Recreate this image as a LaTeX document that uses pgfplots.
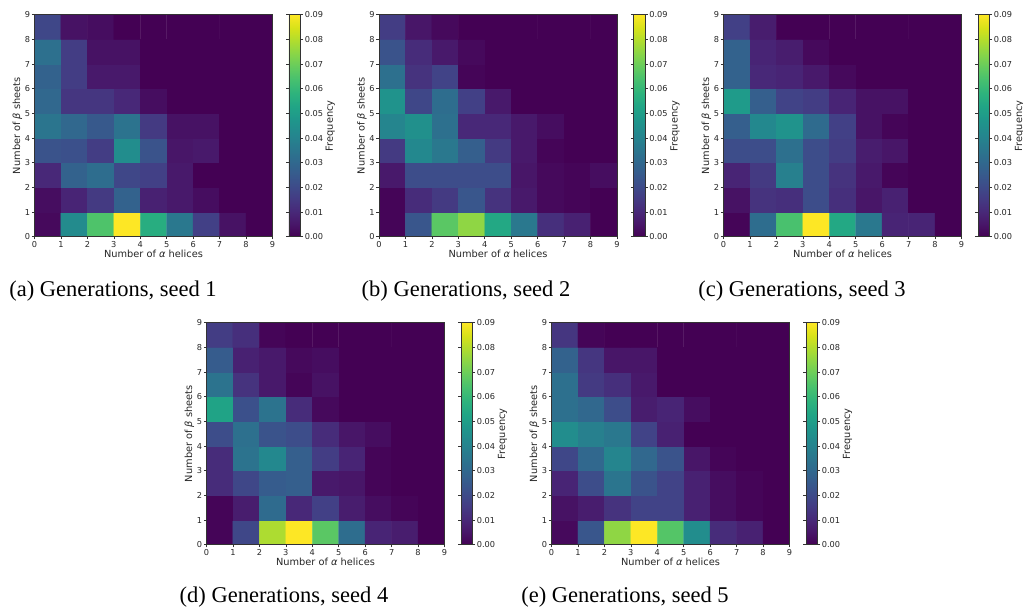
\documentclass[border=0pt]{standalone}
\usepackage{fontspec}
\setmainfont{DejaVu Sans}
\newfontfamily\capfont{Liberation Serif}
\usepackage{pgfplots}
\usepackage{pgfplotstable}
\pgfplotsset{compat=1.18}

% cell tables: x y c  (x,y = cell centres, c = frequency)
\pgfplotstableread[row sep=\\]{
x y c\\
0.5 0.5 0.002\\ 1.5 0.5 0.043\\ 2.5 0.5 0.065\\ 3.5 0.5 0.090\\ 4.5 0.5 0.056\\ 5.5 0.5 0.036\\ 6.5 0.5 0.017\\ 7.5 0.5 0.004\\ 8.5 0.5 0.000\\
0.5 1.5 0.003\\ 1.5 1.5 0.009\\ 2.5 1.5 0.015\\ 3.5 1.5 0.028\\ 4.5 1.5 0.008\\ 5.5 1.5 0.006\\ 6.5 1.5 0.003\\ 7.5 1.5 0.000\\ 8.5 1.5 0.000\\
0.5 2.5 0.010\\ 1.5 2.5 0.028\\ 2.5 2.5 0.032\\ 3.5 2.5 0.019\\ 4.5 2.5 0.017\\ 5.5 2.5 0.006\\ 6.5 2.5 0.000\\ 7.5 2.5 0.000\\ 8.5 2.5 0.000\\
0.5 3.5 0.023\\ 1.5 3.5 0.022\\ 2.5 3.5 0.016\\ 3.5 3.5 0.044\\ 4.5 3.5 0.023\\ 5.5 3.5 0.005\\ 6.5 3.5 0.006\\ 7.5 3.5 0.000\\ 8.5 3.5 0.000\\
0.5 4.5 0.035\\ 1.5 4.5 0.030\\ 2.5 4.5 0.025\\ 3.5 4.5 0.034\\ 4.5 4.5 0.015\\ 5.5 4.5 0.004\\ 6.5 4.5 0.004\\ 7.5 4.5 0.000\\ 8.5 4.5 0.000\\
0.5 5.5 0.030\\ 1.5 5.5 0.014\\ 2.5 5.5 0.014\\ 3.5 5.5 0.010\\ 4.5 5.5 0.003\\ 5.5 5.5 0.000\\ 6.5 5.5 0.000\\ 7.5 5.5 0.000\\ 8.5 5.5 0.000\\
0.5 6.5 0.028\\ 1.5 6.5 0.016\\ 2.5 6.5 0.006\\ 3.5 6.5 0.006\\ 4.5 6.5 0.000\\ 5.5 6.5 0.000\\ 6.5 6.5 0.000\\ 7.5 6.5 0.000\\ 8.5 6.5 0.000\\
0.5 7.5 0.033\\ 1.5 7.5 0.016\\ 2.5 7.5 0.004\\ 3.5 7.5 0.004\\ 4.5 7.5 0.000\\ 5.5 7.5 0.000\\ 6.5 7.5 0.000\\ 7.5 7.5 0.000\\ 8.5 7.5 0.000\\
0.5 8.5 0.019\\ 1.5 8.5 0.004\\ 2.5 8.5 0.003\\ 3.5 8.5 0.000\\ 4.5 8.5 0.000\\ 5.5 8.5 0.000\\ 6.5 8.5 0.000\\ 7.5 8.5 0.000\\ 8.5 8.5 0.000\\
}\tA

\pgfplotstableread[row sep=\\]{
x y c\\
0.5 0.5 0.001\\ 1.5 0.5 0.024\\ 2.5 0.5 0.067\\ 3.5 0.5 0.075\\ 4.5 0.5 0.054\\ 5.5 0.5 0.036\\ 6.5 0.5 0.012\\ 7.5 0.5 0.008\\ 8.5 0.5 0.000\\
0.5 1.5 0.001\\ 1.5 1.5 0.011\\ 2.5 1.5 0.015\\ 3.5 1.5 0.024\\ 4.5 1.5 0.013\\ 5.5 1.5 0.006\\ 6.5 1.5 0.002\\ 7.5 1.5 0.001\\ 8.5 1.5 0.000\\
0.5 2.5 0.006\\ 1.5 2.5 0.021\\ 2.5 2.5 0.021\\ 3.5 2.5 0.021\\ 4.5 2.5 0.021\\ 5.5 2.5 0.005\\ 6.5 2.5 0.002\\ 7.5 2.5 0.001\\ 8.5 2.5 0.003\\
0.5 3.5 0.015\\ 1.5 3.5 0.042\\ 2.5 3.5 0.036\\ 3.5 3.5 0.027\\ 4.5 3.5 0.015\\ 5.5 3.5 0.006\\ 6.5 3.5 0.001\\ 7.5 3.5 0.000\\ 8.5 3.5 0.000\\
0.5 4.5 0.041\\ 1.5 4.5 0.045\\ 2.5 4.5 0.033\\ 3.5 4.5 0.010\\ 4.5 4.5 0.010\\ 5.5 4.5 0.006\\ 6.5 4.5 0.003\\ 7.5 4.5 0.000\\ 8.5 4.5 0.000\\
0.5 5.5 0.046\\ 1.5 5.5 0.019\\ 2.5 5.5 0.032\\ 3.5 5.5 0.017\\ 4.5 5.5 0.006\\ 5.5 5.5 0.000\\ 6.5 5.5 0.000\\ 7.5 5.5 0.000\\ 8.5 5.5 0.000\\
0.5 6.5 0.033\\ 1.5 6.5 0.013\\ 2.5 6.5 0.018\\ 3.5 6.5 0.001\\ 4.5 6.5 0.000\\ 5.5 6.5 0.000\\ 6.5 6.5 0.000\\ 7.5 6.5 0.000\\ 8.5 6.5 0.000\\
0.5 7.5 0.023\\ 1.5 7.5 0.011\\ 2.5 7.5 0.006\\ 3.5 7.5 0.002\\ 4.5 7.5 0.000\\ 5.5 7.5 0.000\\ 6.5 7.5 0.000\\ 7.5 7.5 0.000\\ 8.5 7.5 0.000\\
0.5 8.5 0.016\\ 1.5 8.5 0.005\\ 2.5 8.5 0.002\\ 3.5 8.5 0.000\\ 4.5 8.5 0.000\\ 5.5 8.5 0.000\\ 6.5 8.5 0.000\\ 7.5 8.5 0.000\\ 8.5 8.5 0.000\\
}\tB

\pgfplotstableread[row sep=\\]{
x y c\\
0.5 0.5 0.001\\ 1.5 0.5 0.032\\ 2.5 0.5 0.064\\ 3.5 0.5 0.090\\ 4.5 0.5 0.054\\ 5.5 0.5 0.036\\ 6.5 0.5 0.009\\ 7.5 0.5 0.009\\ 8.5 0.5 0.000\\
0.5 1.5 0.004\\ 1.5 1.5 0.013\\ 2.5 1.5 0.012\\ 3.5 1.5 0.021\\ 4.5 1.5 0.012\\ 5.5 1.5 0.005\\ 6.5 1.5 0.008\\ 7.5 1.5 0.000\\ 8.5 1.5 0.000\\
0.5 2.5 0.009\\ 1.5 2.5 0.015\\ 2.5 2.5 0.039\\ 3.5 2.5 0.021\\ 4.5 2.5 0.013\\ 5.5 2.5 0.006\\ 6.5 2.5 0.001\\ 7.5 2.5 0.000\\ 8.5 2.5 0.000\\
0.5 3.5 0.021\\ 1.5 3.5 0.021\\ 2.5 3.5 0.033\\ 3.5 3.5 0.021\\ 4.5 3.5 0.016\\ 5.5 3.5 0.007\\ 6.5 3.5 0.005\\ 7.5 3.5 0.000\\ 8.5 3.5 0.000\\
0.5 4.5 0.027\\ 1.5 4.5 0.042\\ 2.5 4.5 0.046\\ 3.5 4.5 0.031\\ 4.5 4.5 0.017\\ 5.5 4.5 0.004\\ 6.5 4.5 0.001\\ 7.5 4.5 0.000\\ 8.5 4.5 0.000\\
0.5 5.5 0.049\\ 1.5 5.5 0.027\\ 2.5 5.5 0.018\\ 3.5 5.5 0.016\\ 4.5 5.5 0.009\\ 5.5 5.5 0.004\\ 6.5 5.5 0.004\\ 7.5 5.5 0.000\\ 8.5 5.5 0.000\\
0.5 6.5 0.028\\ 1.5 6.5 0.010\\ 2.5 6.5 0.009\\ 3.5 6.5 0.006\\ 4.5 6.5 0.002\\ 5.5 6.5 0.000\\ 6.5 6.5 0.000\\ 7.5 6.5 0.000\\ 8.5 6.5 0.000\\
0.5 7.5 0.028\\ 1.5 7.5 0.009\\ 2.5 7.5 0.007\\ 3.5 7.5 0.002\\ 4.5 7.5 0.000\\ 5.5 7.5 0.000\\ 6.5 7.5 0.000\\ 7.5 7.5 0.000\\ 8.5 7.5 0.000\\
0.5 8.5 0.017\\ 1.5 8.5 0.007\\ 2.5 8.5 0.000\\ 3.5 8.5 0.000\\ 4.5 8.5 0.000\\ 5.5 8.5 0.000\\ 6.5 8.5 0.000\\ 7.5 8.5 0.000\\ 8.5 8.5 0.000\\
}\tC

\pgfplotstableread[row sep=\\]{
x y c\\
0.5 0.5 0.001\\ 1.5 0.5 0.019\\ 2.5 0.5 0.079\\ 3.5 0.5 0.090\\ 4.5 0.5 0.067\\ 5.5 0.5 0.032\\ 6.5 0.5 0.009\\ 7.5 0.5 0.007\\ 8.5 0.5 0.000\\
0.5 1.5 0.001\\ 1.5 1.5 0.007\\ 2.5 1.5 0.031\\ 3.5 1.5 0.010\\ 4.5 1.5 0.017\\ 5.5 1.5 0.007\\ 6.5 1.5 0.003\\ 7.5 1.5 0.001\\ 8.5 1.5 0.000\\
0.5 2.5 0.011\\ 1.5 2.5 0.019\\ 2.5 2.5 0.026\\ 3.5 2.5 0.027\\ 4.5 2.5 0.006\\ 5.5 2.5 0.005\\ 6.5 2.5 0.001\\ 7.5 2.5 0.000\\ 8.5 2.5 0.000\\
0.5 3.5 0.011\\ 1.5 3.5 0.034\\ 2.5 3.5 0.042\\ 3.5 3.5 0.027\\ 4.5 3.5 0.016\\ 5.5 3.5 0.009\\ 6.5 3.5 0.001\\ 7.5 3.5 0.000\\ 8.5 3.5 0.000\\
0.5 4.5 0.021\\ 1.5 4.5 0.033\\ 2.5 4.5 0.023\\ 3.5 4.5 0.021\\ 4.5 4.5 0.011\\ 5.5 4.5 0.005\\ 6.5 4.5 0.003\\ 7.5 4.5 0.000\\ 8.5 4.5 0.000\\
0.5 5.5 0.052\\ 1.5 5.5 0.022\\ 2.5 5.5 0.034\\ 3.5 5.5 0.011\\ 4.5 5.5 0.002\\ 5.5 5.5 0.000\\ 6.5 5.5 0.000\\ 7.5 5.5 0.000\\ 8.5 5.5 0.000\\
0.5 6.5 0.034\\ 1.5 6.5 0.013\\ 2.5 6.5 0.006\\ 3.5 6.5 0.001\\ 4.5 6.5 0.004\\ 5.5 6.5 0.000\\ 6.5 6.5 0.000\\ 7.5 6.5 0.000\\ 8.5 6.5 0.000\\
0.5 7.5 0.026\\ 1.5 7.5 0.008\\ 2.5 7.5 0.006\\ 3.5 7.5 0.002\\ 4.5 7.5 0.003\\ 5.5 7.5 0.000\\ 6.5 7.5 0.000\\ 7.5 7.5 0.000\\ 8.5 7.5 0.000\\
0.5 8.5 0.016\\ 1.5 8.5 0.012\\ 2.5 8.5 0.001\\ 3.5 8.5 0.000\\ 4.5 8.5 0.000\\ 5.5 8.5 0.000\\ 6.5 8.5 0.000\\ 7.5 8.5 0.000\\ 8.5 8.5 0.000\\
}\tD

\pgfplotstableread[row sep=\\]{
x y c\\
0.5 0.5 0.002\\ 1.5 0.5 0.024\\ 2.5 0.5 0.075\\ 3.5 0.5 0.090\\ 4.5 0.5 0.066\\ 5.5 0.5 0.044\\ 6.5 0.5 0.011\\ 7.5 0.5 0.008\\ 8.5 0.5 0.000\\
0.5 1.5 0.004\\ 1.5 1.5 0.007\\ 2.5 1.5 0.013\\ 3.5 1.5 0.018\\ 4.5 1.5 0.018\\ 5.5 1.5 0.008\\ 6.5 1.5 0.003\\ 7.5 1.5 0.001\\ 8.5 1.5 0.000\\
0.5 2.5 0.009\\ 1.5 2.5 0.021\\ 2.5 2.5 0.035\\ 3.5 2.5 0.023\\ 4.5 2.5 0.018\\ 5.5 2.5 0.008\\ 6.5 2.5 0.003\\ 7.5 2.5 0.001\\ 8.5 2.5 0.000\\
0.5 3.5 0.019\\ 1.5 3.5 0.030\\ 2.5 3.5 0.041\\ 3.5 3.5 0.030\\ 4.5 3.5 0.023\\ 5.5 3.5 0.005\\ 6.5 3.5 0.001\\ 7.5 3.5 0.000\\ 8.5 3.5 0.000\\
0.5 4.5 0.044\\ 1.5 4.5 0.039\\ 2.5 4.5 0.036\\ 3.5 4.5 0.018\\ 4.5 4.5 0.008\\ 5.5 4.5 0.000\\ 6.5 4.5 0.000\\ 7.5 4.5 0.000\\ 8.5 4.5 0.000\\
0.5 5.5 0.033\\ 1.5 5.5 0.030\\ 2.5 5.5 0.021\\ 3.5 5.5 0.007\\ 4.5 5.5 0.009\\ 5.5 5.5 0.003\\ 6.5 5.5 0.000\\ 7.5 5.5 0.000\\ 8.5 5.5 0.000\\
0.5 6.5 0.033\\ 1.5 6.5 0.015\\ 2.5 6.5 0.012\\ 3.5 6.5 0.006\\ 4.5 6.5 0.000\\ 5.5 6.5 0.000\\ 6.5 6.5 0.000\\ 7.5 6.5 0.000\\ 8.5 6.5 0.000\\
0.5 7.5 0.028\\ 1.5 7.5 0.014\\ 2.5 7.5 0.005\\ 3.5 7.5 0.005\\ 4.5 7.5 0.000\\ 5.5 7.5 0.000\\ 6.5 7.5 0.000\\ 7.5 7.5 0.000\\ 8.5 7.5 0.000\\
0.5 8.5 0.014\\ 1.5 8.5 0.001\\ 2.5 8.5 0.000\\ 3.5 8.5 0.000\\ 4.5 8.5 0.000\\ 5.5 8.5 0.000\\ 6.5 8.5 0.000\\ 7.5 8.5 0.000\\ 8.5 8.5 0.000\\
}\tE

\pgfplotsset{
  heat/.style={
    scale only axis, width=238bp, height=222bp, anchor=south west,
    xmin=0, xmax=9, ymin=0, ymax=9, enlargelimits=false,
    xtick={0,...,9}, ytick={0,...,9},
    tick align=outside, xtick pos=bottom, ytick pos=left,
    major tick length=2.7bp,
    major tick style={line width=0.6bp, black!80},
    axis line style={line width=0.7bp, black!80},
    axis on top,
    /pgf/number format/assume math mode=true,
    tick label style={font=\fontsize{8.2bp}{9bp}\selectfont, text=black!85},
    xticklabel style={inner sep=1.5bp},
    yticklabel style={inner sep=1.5bp},
    label style={font=\fontsize{9.8bp}{11bp}\selectfont, text=black!85},
    xlabel={Number of \textit{α} helices},
    ylabel={Number of \textit{β} sheets},
    xlabel style={inner sep=1bp},
    ylabel style={inner sep=1bp},
    colormap/viridis,
    point meta min=0, point meta max=0.09,
    colorbar,
    colorbar style={
      at={(parent axis.north east)}, anchor=north west, xshift=8bp,
      scale only axis, width=11.5bp, height=222bp,
      ytick={0,0.01,0.02,0.03,0.04,0.05,0.06,0.07,0.08,0.09},
      scaled y ticks=false,
      tick align=outside, major tick length=2.7bp,
      major tick style={line width=0.6bp, black!80},
      axis line style={line width=0.7bp, black!80},
      /pgf/number format/assume math mode=true,
      yticklabel style={/pgf/number format/fixed, /pgf/number format/fixed zerofill,
        /pgf/number format/precision=2, font=\fontsize{8.2bp}{9bp}\selectfont, text=black!85, inner sep=1.5bp},
      ylabel={Frequency},
      ylabel style={font=\fontsize{9.8bp}{11bp}\selectfont, text=black!85, inner sep=1bp},
    },
  },
}

\newcommand{\heat}[3]{%
  \begin{axis}[heat, at={(#1bp,#2bp)}]
    \addplot [matrix plot*, mesh/cols=9, point meta=explicit] table [x=x, y=y, meta=c] {#3};
  \end{axis}}

\begin{document}
\begin{tikzpicture}
\useasboundingbox (0,0) rectangle (1023bp,615bp);
\heat{34.5}{378.3}{\tA}
\heat{379}{378.3}{\tB}
\heat{723.5}{378.3}{\tC}
\heat{206.5}{70.3}{\tD}
\heat{551.5}{70.3}{\tE}
\begin{scope}[every node/.style={anchor=base, inner sep=0pt, font=\capfont\fontsize{22.5bp}{26bp}\selectfont}]
\node at (113bp,318bp) {(a) Generations, seed 1};
\node at (466bp,318bp) {(b) Generations, seed 2};
\node at (802bp,318bp) {(c) Generations, seed 3};
\node at (284bp,13bp) {(d) Generations, seed 4};
\node at (625bp,13bp) {(e) Generations, seed 5};
\end{scope}
\end{tikzpicture}
\end{document}
